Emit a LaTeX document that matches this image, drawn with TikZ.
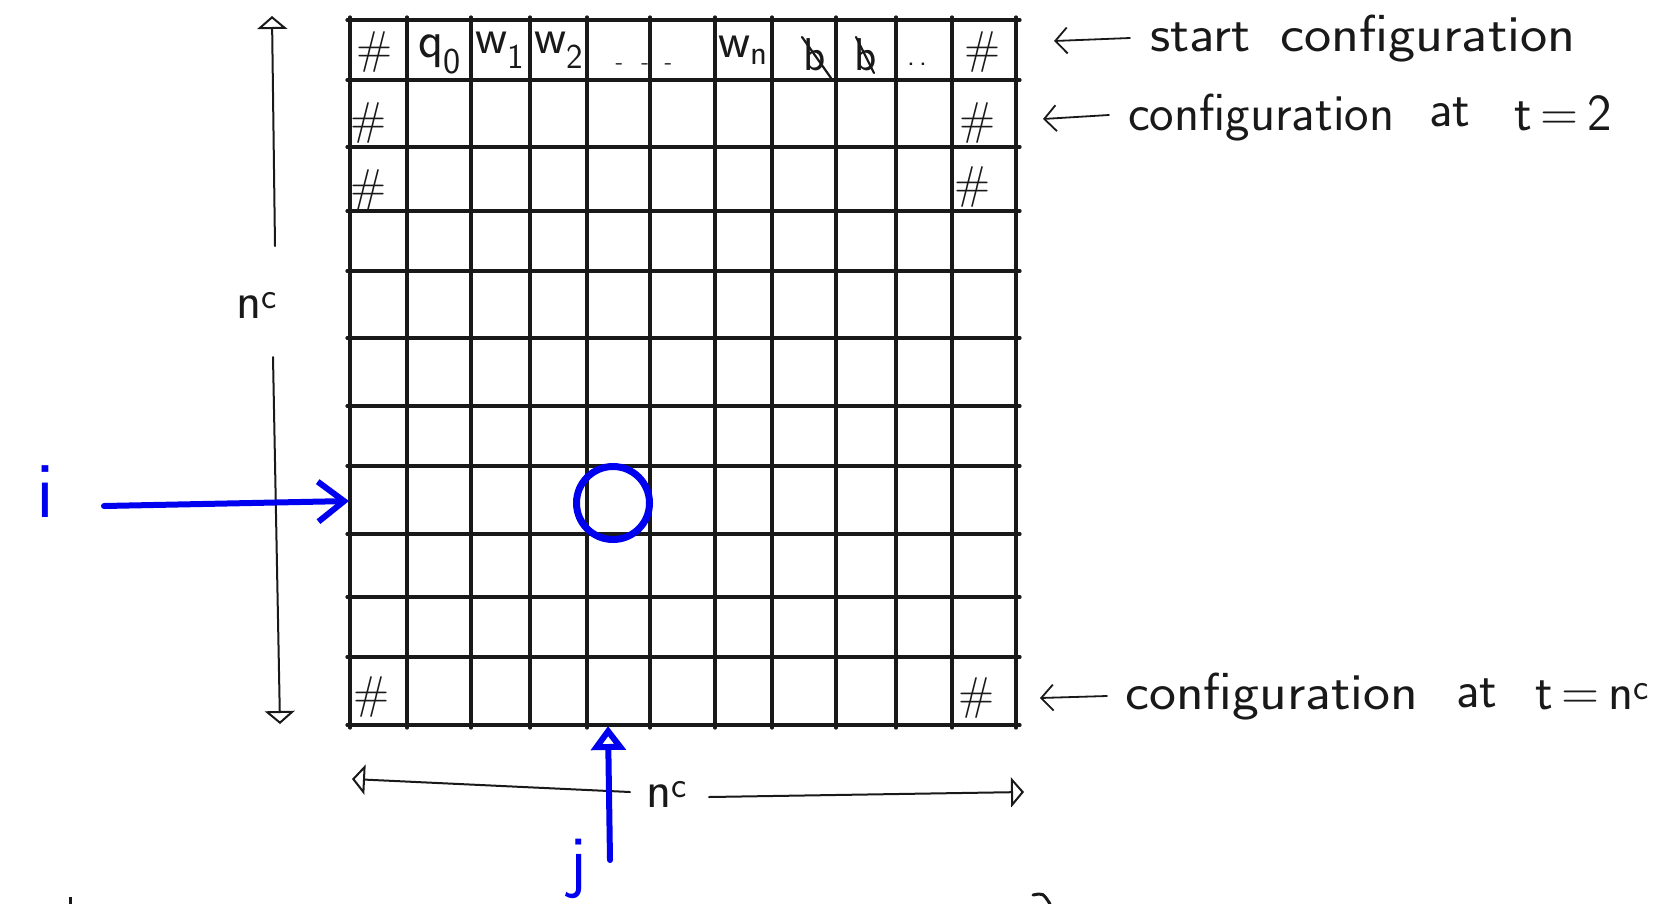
\documentclass[tikz,border=0pt]{standalone}
\usepackage{fontspec}
\usepackage{graphicx}
\usetikzlibrary{arrows.meta}
\definecolor{ink}{RGB}{25,25,25}
\definecolor{inkblue}{RGB}{0,0,240}
\begin{document}
\begin{tikzpicture}[x=1pt,y=-1pt,
  gridl/.style={line width=3.2pt, draw=ink, line cap=round},
  cellsym/.style={font=\sffamily\fontsize{46}{46}\selectfont, text=ink, inner sep=0pt},
  annot/.style={font=\sffamily\fontsize{52}{52}\selectfont\addfontfeatures{LetterSpace=3}, text=ink, anchor=base west, inner sep=0pt},
  bluelabel/.style={text=inkblue, anchor=base, inner sep=0pt},
  thinarrow/.style={line width=1.8pt, draw=ink, line cap=round, -{Straight Barb[length=12pt,width=26pt]}},
  dimline/.style={line width=2pt, draw=ink, line cap=round},
  dimtip/.style={dimline, -{Triangle[open,length=13pt,width=30pt]}},
  bluel/.style={line width=6pt, draw=inkblue, line cap=round},
  strike/.style={line width=2.2pt, draw=ink, line cap=round}
]
\useasboundingbox (0,0) rectangle (1672,903);

% grid
\foreach \x in {350,407,471,530,587,650,715,772,836,896,952,1016}
  \draw[gridl] (\x,17) -- (\x,728);
\foreach \y in {20,80,147,211,271,338,406,466,534,597,657,725}
  \draw[gridl] (347,\y) -- (1020,\y);

% top row (start configuration)
\node[cellsym] (h1a) at (375,52) {\#};
\node[cellsym, font=\sffamily\fontsize{52}{52}\selectfont] (q0)  at (440,54) {q\textsubscript{0}};
\node[cellsym, font=\sffamily\fontsize{50}{50}\selectfont] (w1)  at (500,50) {w\textsubscript{1}};
\node[cellsym, font=\sffamily\fontsize{50}{50}\selectfont] (w2)  at (559,50) {w\textsubscript{2}};
\node[cellsym, font=\sffamily\fontsize{24}{24}\selectfont] (dots) at (644,67) {-\hspace{18pt}-\hspace{16pt}-};
\node[cellsym, font=\sffamily\fontsize{50}{50}\selectfont] (wn)  at (743,50) {w\textsubscript{n}};
\node[cellsym] (bl1) at (815,55) {b};
\draw[strike] (802,37) -- (831,78);
\node[cellsym] (bl2) at (866,55) {b};
\draw[strike] (856,37) -- (874,73);
\node[cellsym, font=\sffamily\fontsize{30}{30}\selectfont] (dd) at (917,64) {.\hspace{4pt}.};
\node[cellsym] (h1b) at (983,52) {\#};

% border symbols
\node[cellsym] (h2a) at (369,123) {\#};
\node[cellsym] (h2b) at (978,123) {\#};
\node[cellsym] (h3a) at (369,190) {\#};
\node[cellsym] (h3b) at (973,187) {\#};
\node[cellsym] (h11a) at (372,697) {\#};
\node[cellsym] (h11b) at (977,698) {\#};

% annotations on the right
\coordinate (a1tail) at (1130,38);
\coordinate (a1tip)  at (1054,41);
\draw[thinarrow] (a1tail) -- (a1tip);
\node[annot] (t1a) at (1150,51) {\scalebox{1.08}[1]{start}};
\node[annot] (t1b) at (1280,51) {\scalebox{1.11}[1]{configuration}};

\coordinate (a2tail) at (1109,115);
\coordinate (a2tip)  at (1043,119);
\draw[thinarrow] (a2tail) -- (a2tip);
\node[annot] (t2a) at (1128,130) {configuration};
\node[annot] (t2b) at (1429,126) {at};
\node[annot] (t2c) at (1514,130) {t\,=\,2};

\coordinate (a3tail) at (1107,696);
\coordinate (a3tip)  at (1040,698);
\draw[thinarrow] (a3tail) -- (a3tip);
\node[annot] (t3a) at (1125,709) {\scalebox{1.1}[1]{configuration}};
\node[annot] (t3b) at (1456,707) {at};
\node[annot] (t3c) at (1535,709) {t\,=\,n\textsuperscript{c}};

% vertical dimension n^c
\node[annot, font=\sffamily\fontsize{52}{52}\selectfont] (nc1) at (236,318) {n\textsuperscript{c}};
\coordinate (vt1) at (272,16);
\coordinate (vt2) at (275,246);
\coordinate (vb1) at (273,357);
\coordinate (vb2) at (280,724);
\draw[dimtip] (vt2) -- (vt1);
\draw[dimtip] (vb1) -- (vb2);

% horizontal dimension n^c
\node[annot, font=\sffamily\fontsize{52}{52}\selectfont] (nc2) at (646,807) {n\textsuperscript{c}};
\coordinate (hl1) at (352,779);
\coordinate (hl2) at (630,792);
\coordinate (hr1) at (709,797);
\coordinate (hr2) at (1024,792);
\draw[dimtip] (hl2) -- (hl1);
\draw[dimtip] (hr1) -- (hr2);

% blue marks
\node[bluelabel, font=\sffamily\fontsize{80}{80}\selectfont] (ilab) at (45,517) {i};
\coordinate (ia) at (104,506);
\coordinate (ib) at (349,501);
\draw[bluel, -{Straight Barb[length=26pt,width=40pt]}] (ia) -- (ib);

\node[draw=inkblue, line width=7pt, circle, minimum size=73pt, inner sep=0pt] (cell) at (613,503) {};

\node[bluelabel, font=\sffamily\fontsize{70}{70}\selectfont] (jlab) at (578,884) {j};
\coordinate (ja) at (610,860);
\coordinate (jb) at (608,726);
\draw[bluel, -{Triangle[open,length=24pt,width=34pt]}] (ja) -- (jb);

% cut-off strokes at the lower edge
\draw[line width=3pt, draw=ink] (70,897) -- (70,906);
\draw[line width=3pt, draw=ink, line cap=round] (1033,895) .. controls (1043,893) .. (1050,904);
\end{tikzpicture}
\end{document}
